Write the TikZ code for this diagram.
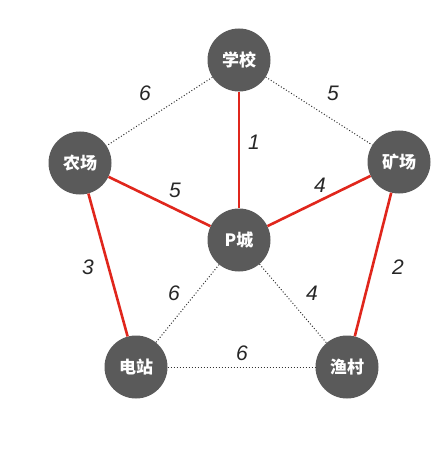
\documentclass[tikz,border=0pt]{standalone}
\usepackage{fontspec}
\setsansfont{Liberation Sans}
\newfontfamily\cjk{Noto Sans CJK SC}
\definecolor{nodegray}{HTML}{5A5A5A}
\definecolor{pathred}{HTML}{E0261C}
\tikzset{
  place/.style={circle,fill=nodegray,minimum size=63pt,inner sep=0pt,text=white,font=\cjk\bfseries\fontsize{17}{17}\selectfont},
  chosen/.style={draw=pathred,line width=2.6pt},
  unused/.style={draw=black!80,dotted,line width=1pt},
  weight/.style={font=\sffamily\itshape\fontsize{21}{21}\selectfont,text=black!85}
}
\begin{document}
\begin{tikzpicture}[x=1pt,y=-1pt]
  \useasboundingbox (0,0) rectangle (443,449);
  %places
  \node[place] (school) at (239,60) {学校};
  \node[place] (farm) at (80,163) {农场};
  \node[place] (mine) at (399,162) {矿场};
  \node[place] (city) at (239,240) {P城};
  \node[place] (power) at (136,367) {电站};
  \node[place] (fish) at (347,367) {渔村};

  %unused roads
  \draw[unused] (school) -- (farm);
  \draw[unused] (school) -- (mine);
  \draw[unused] (city) -- (power);
  \draw[unused] (city) -- (fish);
  \draw[unused] (power) -- (fish);
  %chosen roads
  \draw[chosen] (school) -- (city);
  \draw[chosen] (farm) -- (city);
  \draw[chosen] (mine) -- (city);
  \draw[chosen] (farm) -- (power);
  \draw[chosen] (mine) -- (fish);

  %weights
  \node[weight] (w1) at (145,93) {6};
  \node[weight] (w2) at (333,93) {5};
  \node[weight] (w3) at (254,142) {1};
  \node[weight] (w4) at (175,190) {5};
  \node[weight] (w5) at (320,185) {4};
  \node[weight] (w6) at (88,267) {3};
  \node[weight] (w7) at (398,267) {2};
  \node[weight] (w8) at (174,293) {6};
  \node[weight] (w9) at (312,293) {4};
  \node[weight] (w10) at (242,353) {6};
\end{tikzpicture}
\end{document}
